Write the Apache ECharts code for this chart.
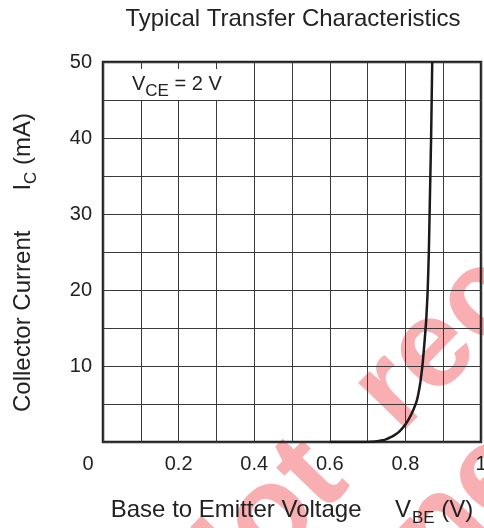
<!DOCTYPE html>
<html>
<head>
<meta charset="utf-8">
<script src="https://cdn.jsdelivr.net/npm/echarts@6/dist/echarts.min.js"></script>
<style>html,body{margin:0;padding:0;background:#fff}#c{width:484px;height:528px}</style>
</head>
<body>
<div id="c"></div>
<script>
// Data
const vbe = [0.60, 0.70, 0.72, 0.73, 0.74, 0.75, 0.76, 0.77, 0.78, 0.79, 0.80, 0.81, 0.82, 0.83, 0.835, 0.84, 0.845, 0.85, 0.855, 0.859, 0.862, 0.864, 0.866, 0.868, 0.8695, 0.871];
const ic  = [0,    0,    0.05, 0.12, 0.22, 0.38, 0.6,  0.88, 1.2,  1.7,  2.3,  3.1,  4.1,  5.4,  6.5,   8.0,  10,    12.8, 16,    20,    25,    30,    35,    40,    45,     50];
const xTickLabels = ['0', '0.2', '0.4', '0.6', '0.8', '1'];
const yTickLabels = ['10', '20', '30', '40', '50'];

const FONT = 'Liberation Sans';
const TXT = '#222';
const chart = echarts.init(document.getElementById('c'), null, {renderer: 'canvas'});

const points = vbe.map((v, i) => [v, ic[i]]);

chart.setOption({
  animation: false,
  backgroundColor: '#fff',
  title: {
    text: 'Typical Transfer Characteristics',
    left: 288, top: 2, textAlign: 'center',
    textStyle: {fontFamily: FONT, fontSize: 24, fontWeight: 'normal', color: TXT}
  },
  graphic: [
    {
      type: 'text', z: -100, silent: true,
      x: 135, y: 565, rotation: 0.80,
      style: {
        text: 'Not  recommended\nfor new designs',
        fontFamily: FONT, fontSize: 125, fontWeight: 'bold', lineHeight: 130,
        fill: '#f9aeb1', textAlign: 'left', textVerticalAlign: 'top'
      }
    },
    {
      type: 'text', z: 100, left: 130, top: 69,
      style: {
        text: '{v|V}{s|CE}{v| = 2 V}',
        backgroundColor: '#fff', padding: [0, 4, 0, 2],
        rich: {
          v: {fontFamily: FONT, fontSize: 20, fill: TXT, color: TXT},
          s: {fontFamily: FONT, fontSize: 17, fill: TXT, color: TXT, padding: [14, 0, 0, 0]}
        }
      }
    }
  ],
  grid: {
    left: 103, right: 3, top: 62, bottom: 86,
    outerBoundsMode: 'none', containLabel: false,
    show: true, borderColor: '#222', borderWidth: 2.5, backgroundColor: 'transparent'
  },
  xAxis: {
    type: 'value', min: 0, max: 1, interval: 0.1,
    name: '{n|Base to Emitter Voltage     V}{s|BE}{n| (V)}',
    nameLocation: 'middle', nameGap: 52,
    nameTextStyle: {
      rich: {
        n: {fontFamily: FONT, fontSize: 24, color: TXT},
        s: {fontFamily: FONT, fontSize: 17, color: TXT, padding: [16, 0, 0, 1]}
      }
    },
    axisLine: {show: false}, axisTick: {show: false},
    splitLine: {show: true, lineStyle: {color: '#3a3a3a', width: 1}},
    axisLabel: {
      margin: 12, fontFamily: FONT, fontSize: 20, color: TXT,
      formatter: function (v) {
        const k = Math.round(v * 10);
        if (k % 2 !== 0) return '';
        const lab = xTickLabels[k / 2];
        if (k === 0) return '{z|' + lab + '}';
        return lab;
      },
      rich: {z: {fontFamily: FONT, fontSize: 20, color: TXT, padding: [0, 30, 0, 0]}}
    }
  },
  yAxis: {
    type: 'value', min: 0, max: 50, interval: 5,
    name: '{n|Collector Current      I}{s|C}{n| (mA)}',
    nameLocation: 'middle', nameGap: 63, nameRotate: 90,
    nameTextStyle: {
      padding: [0, 21, 0, 0],
      rich: {
        n: {fontFamily: FONT, fontSize: 24, color: TXT},
        s: {fontFamily: FONT, fontSize: 17, color: TXT, padding: [16, 0, 0, 0]}
      }
    },
    axisLine: {show: false}, axisTick: {show: false},
    splitLine: {show: true, lineStyle: {color: '#3a3a3a', width: 1}},
    axisLabel: {
      margin: 11, fontFamily: FONT, fontSize: 20, color: TXT,
      formatter: function (v) {
        const k = Math.round(v / 5);
        if (k === 0 || k % 2 !== 0) return '';
        return yTickLabels[k / 2 - 1];
      }
    }
  },
  series: [{
    type: 'line', data: points, smooth: 0.15, showSymbol: false,
    lineStyle: {color: '#1a1a1a', width: 2.5}, z: 5
  }]
});
</script>
</body>
</html>
